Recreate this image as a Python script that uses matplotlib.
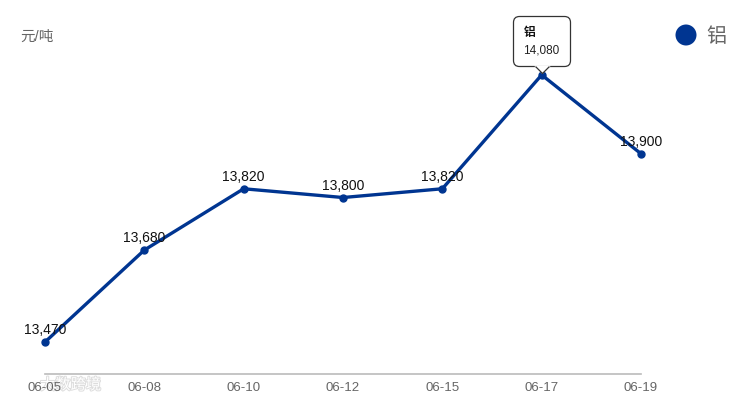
import matplotlib
matplotlib.use("Agg")
import matplotlib.pyplot as plt
from matplotlib import patches, transforms, patheffects
from matplotlib.path import Path
from matplotlib.offsetbox import TextArea, VPacker, AnnotationBbox

# data
dates = ["06-05", "06-08", "06-10", "06-12", "06-15", "06-17", "06-19"]
prices = [13470, 13680, 13820, 13800, 13820, 14080, 13900]
series_name = "铝"
unit = "元/吨"
watermark = "大数跨境"
tip_index = 5

plt.rcParams['font.family'] = ['Liberation Sans', 'Noto Sans CJK SC', 'DejaVu Sans']

line_color = "#003591"
edge_color = "#333333"

fig = plt.figure(figsize=(7.33, 4.02), dpi=100)
ax = fig.add_axes([45 / 733, 27 / 402, 596 / 733, 335 / 402])
ax.patch.set_alpha(0)

x = list(range(len(dates)))
ax.plot(x, prices, color=line_color, lw=2.4, marker='o', ms=5, zorder=3,
        solid_joinstyle='miter', clip_on=False)
ax.set_xlim(0, len(dates) - 1)
ax.set_ylim(13397, 14162)

# data labels above points
for i, v in enumerate(prices):
    if i == tip_index:
        continue
    ax.annotate(f"{v:,}", (x[i], v), xytext=(0, 6), textcoords='offset pixels',
                ha='center', va='bottom', fontsize=10, color='#111111', zorder=4)

# tooltip on the highest point
xi, vi = x[tip_index], prices[tip_index]
content = VPacker(children=[
    TextArea(series_name, textprops=dict(fontsize=8.5, fontweight='bold', color='#111111')),
    TextArea(f"{vi:,}", textprops=dict(fontsize=8.5, color='#222222')),
], align='left', pad=0, sep=4)
ab = AnnotationBbox(content, (xi, vi), xybox=(0, 24.5), boxcoords='offset points',
                    frameon=True, pad=0.75, fontsize=10, box_alignment=(0.5, 0.5),
                    bboxprops=dict(boxstyle='round,pad=0.75,rounding_size=0.45',
                                   fc='white', ec=edge_color, lw=0.9),
                    zorder=6, annotation_clip=False)
ax.add_artist(ab)

# notch of the tooltip, tip just above the point
notch_tf = transforms.offset_copy(ax.transData, fig=fig, x=0, y=1.5, units='dots')
notch_fill = Path([(0, 0), (-1, 1), (1, 1), (0, 0)],
                  [Path.MOVETO, Path.LINETO, Path.LINETO, Path.CLOSEPOLY])
notch_edge = Path([(-1, 1), (0, 0), (1, 1)], [Path.MOVETO, Path.LINETO, Path.LINETO])
ax.plot([xi], [vi], marker=notch_fill, ms=11, mfc='white', mec='white', mew=0.6,
        transform=notch_tf, zorder=7, clip_on=False, ls='none')
ax.plot([xi], [vi], marker=notch_edge, ms=10, mfc='none', mec=edge_color, mew=0.9,
        transform=notch_tf, zorder=8, clip_on=False, ls='none')

# axes styling
for s in ['top', 'right', 'left']:
    ax.spines[s].set_visible(False)
ax.spines['bottom'].set_color('#bbbbbb')
ax.spines['bottom'].set_linewidth(1.2)
ax.set_yticks([])
ax.set_xticks(x)
ax.set_xticklabels(dates, fontsize=9.5, color='#666666')
ax.tick_params(axis='x', length=0, pad=5)

# unit label
fig.text(20 / 733, 1 - 37 / 402, unit, fontsize=10.5, color='#666666', va='center')

# legend
fig.patches.append(patches.Circle((686, 402 - 36), 10.5, transform=None,
                                  fc=line_color, ec='none'))
fig.text(706 / 733, 1 - 36 / 402, series_name, fontsize=14.5, color='#666666', va='center')

# faint watermark, behind everything
fig.text(40 / 733, 1 - 386 / 402, watermark, fontsize=11, color='white', va='center',
         zorder=-1,
         path_effects=[patheffects.withStroke(linewidth=1.4, foreground='#dddddd')])

fig.savefig("out.png", dpi=100)
